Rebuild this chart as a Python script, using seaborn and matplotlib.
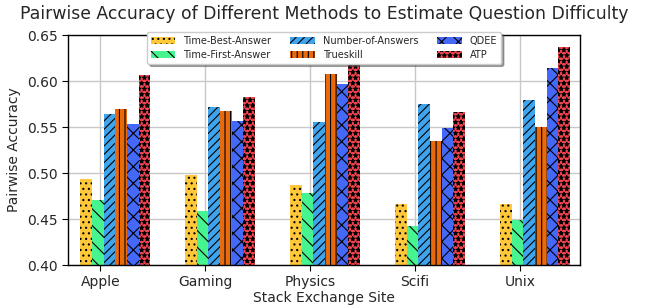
import numpy as np
import pandas as pd
import seaborn as sns
import matplotlib.pyplot as plt

sites = ["Apple", "Gaming", "Physics", "Scifi", "Unix"]
methods = ["Time-Best-Answer", "Time-First-Answer", "Number-of-Answers",
           "Trueskill", "QDEE", "ATP"]

time_best = [0.493, 0.498, 0.487, 0.466, 0.466]
time_first = [0.471, 0.459, 0.478, 0.442, 0.449]
num_answers = [0.564, 0.572, 0.556, 0.575, 0.579]
trueskill = [0.570, 0.568, 0.608, 0.535, 0.550]
qdee = [0.553, 0.557, 0.597, 0.549, 0.614]
atp = [0.607, 0.583, 0.621, 0.566, 0.637]

colors = ["#FFC83A", "#46F58F", "#3FA4EE", "#E86A0C", "#4468F8", "#F2434F"]
hatches = ["...", "\\\\", "////", "|||", "xx", "***"]

rows = []
for m, vals in zip(methods, [time_best, time_first, num_answers, trueskill, qdee, atp]):
    for s, v in zip(sites, vals):
        rows.append({"site": s, "method": m, "acc": v})
df = pd.DataFrame(rows)

sns.set_style("whitegrid")
plt.rcParams["font.family"] = ["DejaVu Sans"]
plt.rcParams["hatch.linewidth"] = 0.8

fig = plt.figure(figsize=(6.48, 3.05), dpi=100)
ax = fig.add_axes([0.105, 0.131, 0.79, 0.754])

sns.barplot(data=df, x="site", y="acc", hue="method", hue_order=methods,
            palette=colors, width=0.667, saturation=1, ax=ax,
            edgecolor="black", linewidth=0, legend=False)

for cont, h in zip(ax.containers, hatches):
    for p in cont:
        p.set_hatch(h)

ax.set_ylim(0.40, 0.65)
ax.set_yticks([0.40, 0.45, 0.50, 0.55, 0.60, 0.65])
ax.set_xlim(-0.45, 4.43)
ax.set_xticks(np.arange(len(sites)) - 0.143)
ax.set_xticklabels(sites)
ax.tick_params(axis="both", labelsize=10, length=4, color="black", direction="out",
               bottom=True, left=True)
ax.grid(True, color="#c8c8c8", linewidth=1)
for sp in ax.spines.values():
    sp.set_color("black")
    sp.set_linewidth(1)
ax.set_xlabel("Stack Exchange Site", fontsize=10, labelpad=1)
ax.set_ylabel("Pairwise Accuracy", fontsize=10)
fig.suptitle("Pairwise Accuracy of Different Methods to Estimate Question Difficulty",
             fontsize=12.4, y=0.985)

ax.legend(handles=[c.patches[0] for c in ax.containers], labels=methods,
          loc="upper center", bbox_to_anchor=(0.5, 1.035), ncol=3, fontsize=7,
          frameon=True, shadow=True, handlelength=2.5, columnspacing=2.0,
          borderpad=0.4, labelspacing=0.4, fancybox=True)

fig.savefig("out.png", dpi=100)
